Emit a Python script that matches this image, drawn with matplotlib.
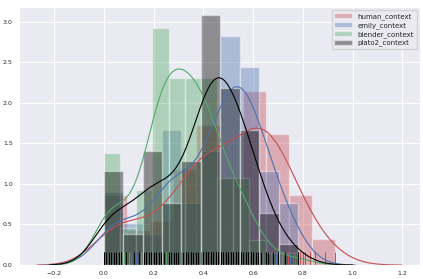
import numpy as np
import seaborn as sns
from matplotlib import pyplot as plt

human_context = [0.0, 0.0, 0.02, 0.03, 0.05, 0.06, 0.08, 0.09,
                 0.11, 0.13, 0.15, 0.17,
                 0.19, 0.21, 0.23, 0.25, 0.27,
                 0.28, 0.29, 0.30, 0.31, 0.32, 0.33, 0.34, 0.35, 0.35, 0.36, 0.37,
                 0.38, 0.38, 0.39, 0.40, 0.40, 0.41, 0.42, 0.42, 0.43, 0.43, 0.44, 0.44, 0.45, 0.45, 0.46, 0.46,
                 0.47, 0.48, 0.49, 0.50, 0.51, 0.52, 0.53, 0.54, 0.55, 0.55,
                 0.56, 0.57, 0.57, 0.58, 0.58, 0.59, 0.59, 0.60, 0.60, 0.60, 0.61, 0.61, 0.62, 0.62, 0.63, 0.63,
                 0.64, 0.64, 0.65, 0.65,
                 0.66, 0.66, 0.67, 0.67, 0.68, 0.68, 0.69, 0.69, 0.70, 0.70, 0.71, 0.72, 0.72, 0.73, 0.74,
                 0.75, 0.76, 0.77, 0.78, 0.79, 0.80, 0.81, 0.83,
                 0.85, 0.89, 0.93]

emily_context = [0.0, 0.01, 0.02, 0.04, 0.05, 0.06, 0.07,
                 0.09, 0.11, 0.13, 0.15,
                 0.17, 0.20, 0.22,
                 0.24, 0.24, 0.25, 0.25, 0.26, 0.27, 0.27, 0.28, 0.28, 0.29, 0.30, 0.30, 0.31,
                 0.32, 0.33, 0.35, 0.36, 0.37, 0.38,
                 0.40, 0.40, 0.41, 0.42, 0.42, 0.43, 0.44, 0.44, 0.45, 0.46, 0.46,
                 0.47, 0.47, 0.48, 0.48, 0.48, 0.49, 0.49, 0.50, 0.50, 0.50, 0.51, 0.51, 0.51,
                 0.52, 0.52, 0.52, 0.53, 0.53, 0.53, 0.54, 0.54, 0.54,
                 0.55, 0.55, 0.56, 0.56, 0.57, 0.57, 0.57, 0.58, 0.58, 0.59, 0.59, 0.59,
                 0.60, 0.60, 0.60, 0.61, 0.61, 0.62, 0.62,
                 0.63, 0.64, 0.65, 0.66, 0.66, 0.67, 0.68, 0.69, 0.70,
                 0.71, 0.72, 0.73, 0.75, 0.76, 0.78]

blender_context = [0.0, 0.0, 0.0, 0.01, 0.02, 0.03, 0.04, 0.05, 0.06,
                   0.08, 0.10, 0.12,
                   0.14, 0.15, 0.16, 0.17, 0.18, 0.19,
                   0.20, 0.20, 0.21, 0.21, 0.21, 0.22, 0.22, 0.22, 0.23, 0.23, 0.23,
                   0.24, 0.24, 0.24, 0.24, 0.25, 0.25, 0.25, 0.25,
                   0.27, 0.27, 0.28, 0.28, 0.29, 0.29, 0.29, 0.30, 0.30, 0.30, 0.31, 0.31, 0.31, 0.32, 0.32,
                   0.33, 0.33, 0.34, 0.34, 0.34, 0.35, 0.35, 0.35, 0.36, 0.36, 0.36, 0.37, 0.37, 0.38, 0.38,
                   0.40, 0.40, 0.40, 0.41, 0.41, 0.41, 0.42, 0.42, 0.42, 0.43, 0.43, 0.44, 0.44, 0.45, 0.45,
                   0.46, 0.47, 0.48, 0.49, 0.50, 0.50, 0.51,
                   0.53, 0.54, 0.55, 0.55, 0.56, 0.57, 0.58,
                   0.60, 0.63, 0.68, 0.78]

plato2_context = [0.0, 0.0, 0.01, 0.02, 0.03, 0.04, 0.05, 0.06, 0.07,
                  0.09, 0.12, 0.14,
                  0.16, 0.17, 0.17, 0.18, 0.19, 0.19, 0.20, 0.21, 0.21, 0.22, 0.23,
                  0.24, 0.26, 0.27, 0.28, 0.29, 0.30,
                  0.32, 0.33, 0.33, 0.34, 0.35, 0.35, 0.36, 0.37, 0.37, 0.38,
                  0.40, 0.40, 0.40, 0.41, 0.41, 0.41, 0.42, 0.42, 0.42, 0.43, 0.43, 0.43,
                  0.44, 0.44, 0.44, 0.44, 0.45, 0.45, 0.45, 0.45, 0.46, 0.46, 0.46, 0.46,
                  0.47, 0.47, 0.48, 0.48, 0.49, 0.49, 0.50, 0.50, 0.51, 0.51, 0.52, 0.52,
                  0.53, 0.53, 0.54, 0.54, 0.54,
                  0.55, 0.55, 0.56, 0.57, 0.57, 0.58, 0.58, 0.59, 0.59, 0.60, 0.60, 0.61, 0.62,
                  0.63, 0.65, 0.66, 0.68, 0.70,
                  0.73, 0.78]

names = ["human_context", "emily_context", "blender_context", "plato2_context"]
series = [human_context, emily_context, blender_context, plato2_context]
n_bins = [10, 10, 12, 10]

sns.set_style("darkgrid")
pal = sns.color_palette("deep")
colors = [pal[3], pal[0], pal[2], "k"]

fig, ax = plt.subplots(figsize=(4.23, 2.79), dpi=100)

for name, vals, nb, c in zip(names, series, n_bins, colors):
    ax.hist(vals, bins=nb, density=True, color=c, alpha=0.4, label=name)
    sns.kdeplot(x=vals, ax=ax, color=c, linewidth=0.8)
    sns.rugplot(x=vals, ax=ax, color=c, height=0.05, linewidth=0.7)

ax.set_ylim(0, 3.18)
ax.set_ylabel("")
ax.set_xticks([-0.2, 0.0, 0.2, 0.4, 0.6, 0.8, 1.0, 1.2])
ax.tick_params(labelsize=4.5, pad=1)
ax.legend(loc="upper right", fontsize=5, handlelength=2.5, borderpad=0.4, labelspacing=0.3)

plt.subplots_adjust(left=0.045, right=0.993, top=0.975, bottom=0.05)
plt.savefig("out.png")
